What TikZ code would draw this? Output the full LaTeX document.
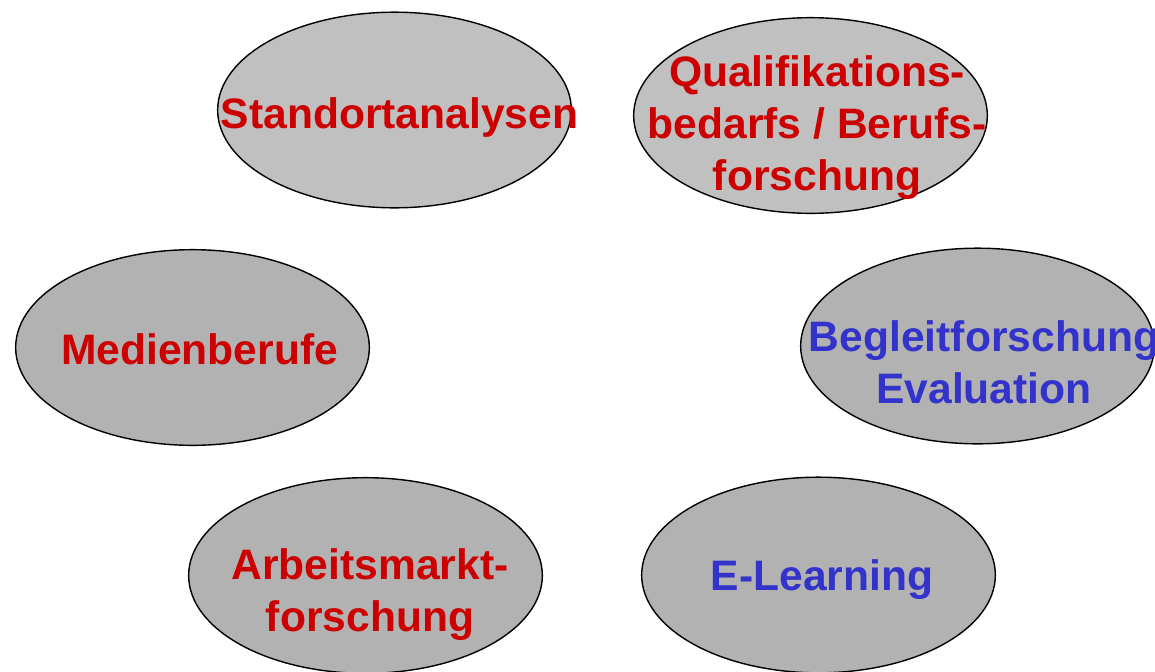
\documentclass[tikz,border=0pt]{standalone}
\usepackage{fontspec}
\setmainfont{Liberation Sans}
\usetikzlibrary{shapes.geometric, positioning, calc}
\definecolor{topicred}{RGB}{204,0,0}
\definecolor{topicblue}{RGB}{51,51,204}
\definecolor{ovallight}{RGB}{192,192,192}
\definecolor{ovaldark}{RGB}{178,178,178}

\begin{document}
\begin{tikzpicture}[x=0.025cm, y=-0.025cm,
    oval/.style={ellipse, draw=black, line width=1pt, fill=#1,
                 minimum width=8.84cm, minimum height=4.89cm, inner sep=0pt},
    topic/.style={text=#1, font=\fontsize{30.3}{37}\selectfont\bfseries,
                  align=center, inner sep=0pt}
]
    \useasboundingbox (0,0) rectangle (1155,671);

    % Ovals
    \node[oval=ovallight] (stand)   at (394.5,110)   {};
    \node[oval=ovallight] (quali)   at (810.5,115.5) {};
    \node[oval=ovaldark]  (medien)  at (192.5,347.5) {};
    \node[oval=ovaldark]  (begleit) at (977.5,346)   {};
    \node[oval=ovaldark]  (arbeit)  at (365.5,575.5) {};
    \node[oval=ovaldark]  (elearn)  at (818.5,575)   {};

    % Labels
    \node[topic=topicred]  (standtxt)   at (399.5,117)   {Standortanalysen};
    \node[topic=topicred]  (qualitxt)   at (817,127.5)   {Qualifikations-\\bedarfs / Berufs-\\forschung};
    \node[topic=topicred]  (medientxt)  at (199.5,349.5) {Medienberufe};
    \node[topic=topicblue] (begleittxt) at (984,362)     {Begleitforschung\\Evaluation};
    \node[topic=topicred]  (arbeittxt)  at (370,594.5)   {Arbeitsmarkt-\\forschung};
    \node[topic=topicblue] (elearntxt)  at (822,580)     {E-Learning};
\end{tikzpicture}
\end{document}
